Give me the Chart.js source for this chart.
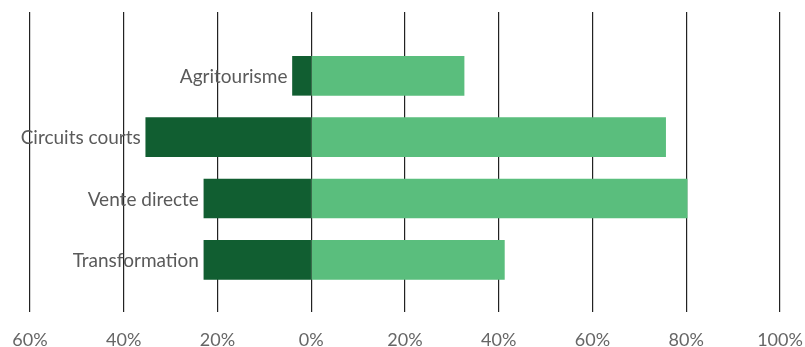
<!DOCTYPE html>
<html>
<head>
<meta charset="utf-8">
<script src="https://cdn.jsdelivr.net/npm/chart.js@4"></script>
<style>
  html, body { margin: 0; padding: 0; background: #fff; }
  #wrap { width: 805px; height: 347px; }
</style>
</head>
<body>
<div id="wrap"><canvas id="myChart"></canvas></div>
<script>
// donnees
var categories = ['Agritourisme', 'Circuits courts', 'Vente directe', 'Transformation']
var valeursNeg = [-4, -35.3, -22.9, -22.9]
var valeursPos = [32.6, 75.6, 80.2, 41.2]
var ticksX = [-60, -40, -20, 0, 20, 40, 60, 80, 100]

var vert = '#115e31'
var vertClair = '#5abe7d'

// etiquettes a gauche de chaque barre
var etiquettes = {
    id: 'etiquettes',
    afterDatasetsDraw: function (chart) {
        var ctx = chart.ctx
        var meta = chart.getDatasetMeta(0)
        ctx.save()
        ctx.font = '19px Lato'
        ctx.fillStyle = '#5a5a5a'
        ctx.textAlign = 'right'
        ctx.textBaseline = 'middle'
        meta.data.forEach(function (bar, i) {
            var left = Math.min(bar.x, bar.base)
            ctx.fillText(categories[i], left - 5, bar.y + 1)
        })
        ctx.restore()
    }
}

var ctx = document.getElementById('myChart').getContext('2d')
var chart = new Chart(ctx, {
    type: 'bar',
    data: {
        datasets: [{
            label: 'neg',
            backgroundColor: vert,
            data: valeursNeg.map(function (v, i) { return { x: v, y: i } }),
            grouped: false,
            barThickness: 39
        }, {
            label: 'pos',
            backgroundColor: vertClair,
            data: valeursPos.map(function (v, i) { return { x: v, y: i } }),
            grouped: false,
            barThickness: 39
        }]
    },
    options: {
        indexAxis: 'y',
        responsive: true,
        maintainAspectRatio: false,
        animation: false,
        layout: { padding: { left: 30, right: 25, top: 12, bottom: 0 } },
        plugins: {
            legend: { display: false },
            tooltip: { enabled: false }
        },
        scales: {
            x: {
                min: -60,
                max: 100,
                afterBuildTicks: function (axis) {
                    axis.ticks = ticksX.map(function (v) { return { value: v } })
                },
                afterFit: function (axis) {
                    axis.height = 35
                    axis.paddingLeft = 0
                    axis.paddingRight = 0
                },
                grid: { color: '#222', lineWidth: 1.2, drawTicks: false },
                border: { display: false },
                ticks: {
                    padding: 19,
                    color: '#666',
                    font: { family: 'Lato', size: 18, lineHeight: 1 },
                    maxRotation: 0,
                    callback: function (v) { return Math.abs(v) + '%' }
                }
            },
            y: {
                type: 'linear',
                reverse: true,
                offset: false,
                min: -1.04,
                max: 3.85,
                display: false
            }
        }
    },
    plugins: [etiquettes]
})
</script>
</body>
</html>
